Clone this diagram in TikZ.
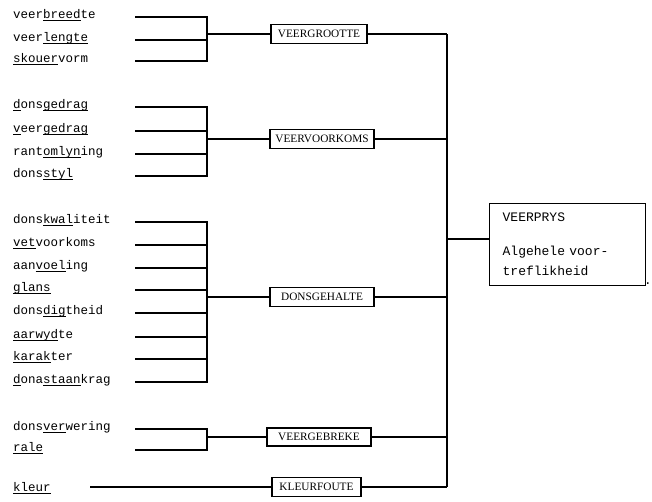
\documentclass[tikz,border=0pt]{standalone}
\usepackage{fontspec}
\setmonofont{Liberation Mono}[WordSpace={1,0,0}]
\newfontfamily\boxfont{Liberation Serif}
\usetikzlibrary{positioning}
\newsavebox{\undlbox}
\newcommand{\undl}[1]{\sbox{\undlbox}{#1}\rlap{\rule[-2.6pt]{\wd\undlbox}{0.7pt}}\usebox{\undlbox}}

\begin{document}
\begin{tikzpicture}[x=1pt, y=-1pt, item/.style={anchor=base west, inner sep=0pt, font=\ttfamily\fontsize{12.5}{15}\selectfont}, group/.style={rectangle, draw, line width=1.3pt, inner sep=0pt, minimum height=19pt, font=\boxfont\fontsize{11.3}{13}\selectfont}, line/.style={line width=1.1pt}]
\useasboundingbox (0,0) rectangle (652,501);
% kenmerke
\node [item] (breedte) at (13,18.5) {veer\undl{breed}te};
\node [item] (lengte) at (13,41.5) {veer\undl{lengte}};
\node [item] (vorm) at (13,62.5) {\undl{skouer}vorm};
\node [item] (dgedrag) at (13,108.5) {\undl{d}ons\undl{gedrag}};
\node [item] (vgedrag) at (13,132.5) {\undl{v}eer\undl{gedrag}};
\node [item] (omlyning) at (13,155.5) {rant\undl{omlyn}ing};
\node [item] (styl) at (13,177.5) {dons\undl{styl}};
\node [item] (kwaliteit) at (13,223.5) {dons\undl{kwal}iteit};
\node [item] (vet) at (13,246.5) {\undl{vet}voorkoms};
\node [item] (voeling) at (13,269.5) {aan\undl{voel}ing};
\node [item] (glans) at (13,291.5) {\undl{glans}};
\node [item] (digtheid) at (13,314.5) {dons\undl{dig}theid};
\node [item] (wydte) at (13,338.5) {\undl{aarwyd}te};
\node [item] (karakter) at (13,360.5) {\undl{karak}ter};
\node [item] (staankrag) at (13,383.5) {\undl{d}ona\undl{staan}krag};
\node [item] (verwering) at (13,430.5) {dons\undl{ver}wering};
\node [item] (rale) at (13,451.5) {\undl{rale}};
\node [item] (kleur) at (13,491) {\undl{kleur}};
% lynbegin
\coordinate (breedte-e) at (135,17);
\coordinate (lengte-e) at (135,40);
\coordinate (vorm-e) at (135,61);
\coordinate (dgedrag-e) at (135,107);
\coordinate (vgedrag-e) at (135,131);
\coordinate (omlyning-e) at (135,154);
\coordinate (styl-e) at (135,176);
\coordinate (kwaliteit-e) at (135,222);
\coordinate (vet-e) at (135,245);
\coordinate (voeling-e) at (135,268);
\coordinate (glans-e) at (135,290);
\coordinate (digtheid-e) at (135,313);
\coordinate (wydte-e) at (135,337);
\coordinate (karakter-e) at (135,359);
\coordinate (staankrag-e) at (135,382);
\coordinate (verwering-e) at (135,429);
\coordinate (rale-e) at (135,450);
\coordinate (kleur-e) at (90,487);
% groepe
\node [group, minimum width=96pt] (grootte) at (319,34) {VEERGROOTTE};
\node [group, minimum width=104pt] (voorkoms) at (322,139) {VEERVOORKOMS};
\node [group, minimum width=104pt] (gehalte) at (322,297) {DONSGEHALTE};
\node [group, minimum width=104pt, minimum height=18pt] (gebreke) at (319,437) {VEERGEBREKE};
\node [group, minimum width=89pt] (kleurfoute) at (316.5,487) {KLEURFOUTE};
\node [group, font=\ttfamily\fontsize{13}{20}\selectfont, align=left, text width=130pt, inner xsep=13pt, minimum height=82pt, anchor=north west] (prys) at (489,203) {VEERPRYS\\[14pt]Algehele voor-\\treflikheid};
\node [item] (dot) at (644,284) {.};
% hakies
\coordinate (j1) at (207,34);
\coordinate (j2) at (207,139);
\coordinate (j3) at (207,297);
\coordinate (j4) at (207,437);
\coordinate (top) at (447,34);
\coordinate (bot) at (447,487);
\coordinate (pj) at (447,239);
\draw [line] (breedte-e) -- (breedte-e -| j1) -- (vorm-e -| j1) -- (vorm-e);
\draw [line] (lengte-e) -- (lengte-e -| j1);
\draw [line] (dgedrag-e) -- (dgedrag-e -| j2) -- (styl-e -| j2) -- (styl-e);
\draw [line] (vgedrag-e) -- (vgedrag-e -| j2);
\draw [line] (omlyning-e) -- (omlyning-e -| j2);
\draw [line] (kwaliteit-e) -- (kwaliteit-e -| j3) -- (staankrag-e -| j3) -- (staankrag-e);
\draw [line] (vet-e) -- (vet-e -| j3);
\draw [line] (voeling-e) -- (voeling-e -| j3);
\draw [line] (glans-e) -- (glans-e -| j3);
\draw [line] (digtheid-e) -- (digtheid-e -| j3);
\draw [line] (wydte-e) -- (wydte-e -| j3);
\draw [line] (karakter-e) -- (karakter-e -| j3);
\draw [line] (verwering-e) -- (verwering-e -| j4) -- (rale-e -| j4) -- (rale-e);
\draw [line] (j1) -- (grootte);
\draw [line] (j2) -- (voorkoms);
\draw [line] (j3) -- (gehalte);
\draw [line] (j4) -- (gebreke);
\draw [line] (kleur-e) -- (kleurfoute);
% hoofstam
\draw [line] (top) -- (bot);
\draw [line] (grootte) -- (top);
\draw [line] (voorkoms) -- (voorkoms -| top);
\draw [line] (gehalte) -- (gehalte -| top);
\draw [line] (gebreke) -- (gebreke -| top);
\draw [line] (kleurfoute) -- (bot);
\draw [line] (pj) -- (pj -| prys.west);
\end{tikzpicture}
\end{document}
